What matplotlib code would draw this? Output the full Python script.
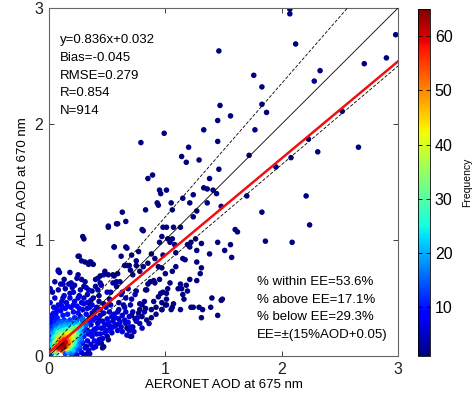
import numpy as np
import matplotlib
matplotlib.use("Agg")
import matplotlib.pyplot as plt

plt.rcParams['font.family'] = ['Liberation Sans', 'DejaVu Sans']

# ---- data: (AERONET AOD, ALAD AOD, frequency colour) ----
# sparse outer points (navy)
outer_x = [2.07, 2.07, 2.12, 2.98, 2.90, 2.71, 1.76, 2.33, 2.28, 1.83, 1.83, 1.87, 1.77, 2.52, 1.72, 2.23,
           2.31, 2.08, 1.95, 2.66, 2.21, 1.70, 1.46, 1.47, 1.45, 1.56, 0.79, 0.99, 1.33, 1.45, 1.14, 1.20,
           1.18, 1.29, 1.46, 0.85, 0.89, 0.95, 0.96, 1.01, 1.33, 1.36, 1.41, 1.44, 1.38, 1.15, 1.24,
           0.93, 0.94, 1.05, 1.06, 1.21, 1.27, 1.24, 1.36, 1.48, 0.83, 0.63, 0.66, 0.59, 0.51, 0.98,
           1.01, 1.07, 0.80, 1.83, 1.62, 1.86, 1.56, 1.57, 1.51, 2.09, 2.24, 1.60, 1.13,
           0.97, 1.02, 1.04, 1.06, 1.08, 1.09, 1.19, 1.26, 1.31, 1.21, 0.98, 1.15, 1.17, 1.27, 1.31,
           1.09, 1.06, 0.97, 1.21, 1.27, 1.13, 1.18, 1.14, 1.11, 1.02, 0.98, 1.01, 1.19, 1.15, 1.16,
           1.40, 1.48, 1.49, 1.07, 1.00, 1.06, 1.22, 1.24, 1.29, 1.32, 0.95, 1.38, 1.22, 1.27, 1.45,
           1.30, 1.31, 1.45, 1.39, 1.05, 1.13, 0.97, 0.94, 0.96, 1.01, 1.01, 0.97, 0.90, 0.92, 0.83,
           0.85, 0.87, 0.90, 0.78, 0.77, 0.80, 0.70, 0.67, 0.72, 0.29, 0.30, 0.56, 0.66, 0.71, 0.25,
           0.31, 0.34, 0.36, 0.38, 0.48, 0.44, 0.42, 0.55, 0.59, 0.65, 0.69, 0.75, 0.08, 0.09, 0.26,
           0.28, 0.35, 0.51, 0.58, 0.56, 0.67, 0.81, 0.77, 0.62, 0.51, 0.56, 0.58, 0.67, 0.70, 0.72,
           0.75, 0.78, 0.81, 0.85, 0.88, 0.91, 0.94, 0.84, 0.91, 0.95, 1.00, 1.04, 0.80, 0.83, 0.97,
           0.32, 0.47, 0.33, 0.45, 0.46, 0.71, 0.74, 0.84, 0.88, 0.92, 0.71, 0.50, 0.51]
outer_y = [2.99, 2.95, 2.69, 2.77, 2.57, 2.52, 2.42, 2.46, 2.37, 2.32, 2.17, 2.10, 1.95, 2.11, 1.73, 1.87,
           1.76, 1.71, 1.63, 1.80, 1.38, 1.38, 2.63, 2.16, 2.03, 2.07, 1.84, 1.92, 1.95, 1.85, 1.72, 1.80,
           1.67, 1.69, 1.61, 1.53, 1.56, 1.43, 1.40, 1.43, 1.45, 1.44, 1.43, 1.40, 1.53, 1.36, 1.39,
           1.32, 1.30, 1.32, 1.26, 1.32, 1.25, 1.20, 1.32, 1.29, 1.26, 1.24, 1.16, 1.14, 1.11, 1.11,
           1.11, 1.11, 1.09, 1.24, 1.07, 0.99, 0.96, 0.85, 0.91, 0.98, 1.13, 1.09, 1.11,
           1.03, 1.01, 0.98, 1.01, 0.96, 0.89, 0.96, 1.01, 0.97, 0.94, 0.87, 0.84, 0.83, 0.81, 0.76,
           0.77, 0.73, 0.76, 0.66, 0.65, 0.62, 0.61, 0.58, 0.58, 0.58, 0.55, 0.54, 0.56, 0.53, 0.49,
           0.50, 0.48, 0.49, 0.45, 0.44, 0.42, 0.42, 0.42, 0.42, 0.40, 0.98, 0.88, 0.98, 0.91, 0.98,
           0.71, 0.33, 0.35, 0.42, 0.40, 0.40, 0.40, 0.51, 0.54, 0.49, 0.44, 0.46, 0.47, 0.42, 0.57,
           0.62, 0.64, 0.65, 0.40, 0.37, 0.34, 0.17, 0.24, 0.25, 1.03, 1.01, 0.94, 0.94, 0.87, 0.86,
           0.81, 0.79, 0.81, 0.79, 0.73, 0.69, 0.67, 0.70, 0.71, 0.78, 0.78, 0.82, 0.74, 0.72, 0.86,
           0.82, 0.81, 1.12, 1.14, 0.94, 0.93, 1.08, 0.90, 0.86, 0.70, 0.69, 0.64, 0.78, 0.74, 0.70,
           0.78, 0.73, 0.77, 0.80, 0.88, 0.84, 0.77, 0.57, 0.63, 0.66, 0.71, 0.63, 0.44, 0.41, 0.40,
           0.08, 0.08, 0.02, 0.11, 0.07, 0.35, 0.32, 0.31, 0.33, 0.36, 0.17, 0.17, 0.14]
outer_f = [1] * len(outer_x)

# blue halo around the dense core
ring_x = [0.08, 0.10, 0.12, 0.17, 0.19, 0.22, 0.24, 0.28, 0.31, 0.32, 0.34, 0.40, 0.42, 0.45, 0.50,
          0.53, 0.55, 0.58, 0.61, 0.62, 0.66, 0.71, 0.74, 0.57, 0.64, 0.60, 0.54, 0.40, 0.44, 0.47,
          0.03, 0.06, 0.10, 0.14, 0.19, 0.24, 0.29, 0.33, 0.37, 0.40, 0.42, 0.39, 0.37, 0.33, 0.31,
          0.28, 0.02, 0.08, 0.15, 0.22, 0.28, 0.44, 0.46, 0.45, 0.41, 0.36, 0.34, 0.30, 0.48, 0.50,
          0.52, 0.55, 0.58, 0.53, 0.60, 0.62, 0.48, 0.43, 0.40, 0.66, 0.69, 0.36, 0.26, 0.18, 0.12,
          0.01, 0.04, 0.01, 0.05, 0.11, 0.13, 0.18, 0.21, 0.25, 0.30, 0.33, 0.37, 0.41, 0.44, 0.47,
          0.49, 0.52, 0.56, 0.59, 0.63, 0.66, 0.69, 0.72, 0.75, 0.68, 0.65, 0.61, 0.57, 0.54, 0.51,
          0.47, 0.50, 0.44, 0.46, 0.42, 0.38, 0.35, 0.39, 0.37, 0.41, 0.43, 0.39, 0.35, 0.30, 0.26,
          0.21, 0.16, 0.11, 0.07, 0.04, 0.01, 0.03, 0.06, 0.55, 0.59, 0.63, 0.67, 0.70, 0.73, 0.78,
          0.80, 0.76,
          0.03, 0.08, 0.14, 0.20, 0.27, 0.33, 0.38, 0.43, 0.47, 0.53, 0.60, 0.65, 0.70, 0.78, 0.82,
          0.86, 0.88, 0.82, 0.75, 0.68, 0.63, 0.52, 0.43, 0.37, 0.30, 0.25, 0.18, 0.13, 0.05, 0.01]
ring_y = [0.73, 0.62, 0.62, 0.62, 0.63, 0.61, 0.67, 0.66, 0.64, 0.59, 0.57, 0.60, 0.57, 0.61, 0.55,
          0.55, 0.63, 0.60, 0.64, 0.53, 0.50, 0.49, 0.53, 0.26, 0.44, 0.40, 0.20, 0.66, 0.63, 0.70,
          0.33, 0.37, 0.39, 0.41, 0.42, 0.43, 0.40, 0.41, 0.37, 0.33, 0.28, 0.23, 0.17, 0.13, 0.07,
          0.03, 0.30, 0.44, 0.46, 0.47, 0.46, 0.35, 0.30, 0.24, 0.19, 0.10, 0.05, 0.01, 0.27, 0.32,
          0.26, 0.30, 0.27, 0.22, 0.32, 0.25, 0.20, 0.14, 0.08, 0.28, 0.22, 0.48, 0.52, 0.54, 0.50,
          0.35, 0.42, 0.46, 0.50, 0.47, 0.52, 0.50, 0.55, 0.50, 0.50, 0.46, 0.44, 0.42, 0.40, 0.37,
          0.42, 0.38, 0.36, 0.38, 0.35, 0.38, 0.34, 0.38, 0.30, 0.29, 0.31, 0.29, 0.33, 0.34, 0.29,
          0.24, 0.22, 0.19, 0.15, 0.11, 0.07, 0.02, 0.13, 0.21, 0.24, 0.31, 0.39, 0.42, 0.45, 0.41,
          0.44, 0.43, 0.43, 0.40, 0.37, 0.29, 0.27, 0.33, 0.25, 0.22, 0.21, 0.18, 0.25, 0.21, 0.28,
          0.24, 0.33,
          0.55, 0.57, 0.58, 0.59, 0.57, 0.53, 0.50, 0.47, 0.45, 0.44, 0.46, 0.42, 0.44, 0.45, 0.38,
          0.28, 0.40, 0.47, 0.56, 0.58, 0.55, 0.49, 0.52, 0.56, 0.60, 0.70, 0.72, 0.66, 0.64, 0.58]
ring_f = [4, 4, 4, 4, 4, 4, 3, 3, 3, 4, 4, 3, 3, 3, 4, 4, 3, 3, 3, 4, 4, 4, 3, 4, 3, 4, 4, 3, 3, 3,
          7, 7, 7, 7, 7, 7, 7, 7, 7, 7, 6, 6, 6, 6, 6, 6, 6, 6, 6, 6, 6, 5, 5, 5, 5, 5, 5, 5, 6, 6,
          6, 6, 5, 6, 5, 5, 5, 5, 5, 4, 4, 5, 5, 5, 5,
          7, 6, 6, 5, 6, 5, 6, 5, 6, 5, 6, 6, 6, 6, 6,
          5, 6, 6, 5, 5, 5, 5, 4, 5, 6, 6, 6, 6, 6, 7,
          7, 7, 7, 6, 6, 6, 5, 7, 8, 8, 7, 7, 7, 7, 8,
          7, 8, 8, 8, 8, 8, 8, 8, 7, 6, 6, 5, 5, 5, 4,
          4, 5,
          3, 3, 3, 3, 3, 3, 3, 3, 3, 3, 3, 3, 3, 3, 3,
          3, 2, 2, 2, 2, 2, 3, 2, 2, 2, 2, 2, 2, 3, 3]

# dense core (colour read as frequency)
core_x = [0.02, 0.05, 0.09, 0.13, 0.18, 0.22, 0.27, 0.31, 0.34, 0.30, 0.26, 0.22, 0.33, 0.36, 0.01,
          0.07, 0.12, 0.16, 0.21, 0.25, 0.32, 0.35, 0.38, 0.29, 0.24, 0.34,
          0.03, 0.05, 0.08, 0.11, 0.15, 0.19, 0.24, 0.29, 0.31, 0.30, 0.28, 0.26, 0.23, 0.19, 0.14,
          0.01, 0.00, 0.02,
          0.03, 0.06, 0.10, 0.14, 0.18, 0.28, 0.30, 0.25, 0.20, 0.02, 0.01, 0.23, 0.32, 0.27, 0.17, 0.29,
          0.04, 0.06, 0.09, 0.13, 0.17, 0.21, 0.26, 0.27, 0.24, 0.23, 0.21, 0.16, 0.03, 0.04,
          0.04, 0.07, 0.12, 0.25, 0.26, 0.22, 0.02, 0.20, 0.15, 0.28, 0.10,
          0.06, 0.08, 0.12, 0.16, 0.19, 0.24, 0.22, 0.21, 0.18, 0.05, 0.06,
          0.22, 0.20, 0.05, 0.03, 0.09, 0.23, 0.16, 0.19, 0.24,
          0.08, 0.11, 0.15, 0.20, 0.19, 0.17, 0.06,
          0.19, 0.17, 0.14, 0.20, 0.07, 0.04, 0.18, 0.21,
          0.10, 0.13, 0.17, 0.17, 0.15, 0.08,
          0.06, 0.17, 0.09, 0.15, 0.18, 0.05, 0.12, 0.16,
          0.09, 0.12, 0.15, 0.14, 0.10,
          0.08, 0.15, 0.10, 0.13, 0.16, 0.07, 0.11, 0.14,
          0.11, 0.12, 0.13, 0.10,
          0.10, 0.12, 0.11, 0.13, 0.09, 0.12, 0.14]
core_y = [0.25, 0.29, 0.30, 0.31, 0.31, 0.33, 0.34, 0.24, 0.30, 0.17, 0.06, 0.02, 0.22, 0.27, 0.18,
          0.33, 0.35, 0.36, 0.38, 0.37, 0.36, 0.33, 0.31, 0.11, 0.01, 0.19,
          0.22, 0.26, 0.28, 0.29, 0.29, 0.29, 0.31, 0.30, 0.27, 0.21, 0.13, 0.08, 0.05, 0.02, 0.02,
          0.12, 0.08, 0.02,
          0.20, 0.24, 0.26, 0.27, 0.27, 0.20, 0.29, 0.10, 0.03, 0.14, 0.06, 0.29, 0.27, 0.15, 0.03, 0.32,
          0.19, 0.22, 0.24, 0.25, 0.25, 0.27, 0.24, 0.19, 0.14, 0.09, 0.05, 0.04, 0.09, 0.13,
          0.16, 0.20, 0.22, 0.22, 0.27, 0.12, 0.10, 0.06, 0.23, 0.25, 0.21,
          0.17, 0.20, 0.20, 0.22, 0.22, 0.19, 0.15, 0.10, 0.07, 0.10, 0.03,
          0.22, 0.24, 0.12, 0.04, 0.18, 0.17, 0.06, 0.09, 0.25,
          0.16, 0.18, 0.20, 0.18, 0.13, 0.10, 0.07,
          0.18, 0.19, 0.18, 0.15, 0.13, 0.06, 0.21, 0.19,
          0.15, 0.17, 0.17, 0.12, 0.07, 0.10,
          0.05, 0.15, 0.14, 0.16, 0.12, 0.08, 0.16, 0.09,
          0.09, 0.13, 0.14, 0.10, 0.06,
          0.06, 0.11, 0.12, 0.14, 0.13, 0.09, 0.05, 0.08,
          0.10, 0.08, 0.11, 0.10,
          0.08, 0.09, 0.11, 0.10, 0.07, 0.07, 0.12]
core_f = [11, 11, 12, 12, 12, 11, 10, 11, 10, 10, 10, 9, 10, 9, 10,
          10, 10, 10, 9, 9, 9, 9, 9, 9, 9, 9,
          14, 14, 14, 15, 15, 14, 13, 13, 13, 13, 13, 14, 14, 13, 13,
          13, 13, 13,
          17, 17, 18, 18, 18, 17, 16, 16, 16, 18, 16, 17, 15, 17, 16, 15,
          20, 21, 21, 21, 21, 20, 20, 20, 20, 20, 20, 20, 20, 20,
          24, 24, 25, 23, 22, 25, 23, 22, 26, 22, 26,
          28, 28, 29, 28, 28, 27, 28, 28, 28, 27, 27,
          32, 31, 33, 30, 33, 31, 30, 33, 30,
          36, 37, 37, 36, 37, 36, 35,
          40, 41, 42, 39, 40, 38, 38, 38,
          44, 44, 44, 44, 43, 44,
          45, 46, 48, 47, 46, 45, 48, 47,
          50, 51, 50, 51, 50,
          53, 54, 55, 56, 52, 52, 53, 55,
          58, 58, 58, 58,
          62, 63, 64, 61, 60, 61, 60]

slope, intercept = 0.836, 0.032
stats_left = ["y=0.836x+0.032", "Bias=-0.045", "RMSE=0.279", "R=0.854", "N=914"]
stats_right = ["% within EE=53.6%", "% above EE=17.1%", "% below EE=29.3%", "EE=\u00b1(15%AOD+0.05)"]
ticks = [0, 1, 2, 3]
cbar_ticks = [10, 20, 30, 40, 50, 60]

# ---- figure ----
fig = plt.figure(figsize=(4.74, 3.97), dpi=100)
ax = fig.add_axes([0.1034, 0.1033, 0.7363, 0.8765])
cax = fig.add_axes([0.8819, 0.1033, 0.0253, 0.8737])

xs = np.array(outer_x + ring_x + core_x)
ys = np.array(outer_y + ring_y + core_y)
fs = np.array(outer_f + ring_f + core_f, dtype=float)
order = np.argsort(fs, kind="stable")
sc = ax.scatter(xs[order], ys[order], c=fs[order], cmap="jet", vmin=1, vmax=65,
                s=16, linewidths=0, zorder=2)

xx = np.array([0.0, 3.0])
ax.plot(xx, xx, color="black", lw=0.6, zorder=3)
ax.plot(xx, 1.15 * xx + 0.05, color="black", lw=0.6, ls=(0, (4, 2)), zorder=3)
ax.plot(xx, 0.85 * xx - 0.05, color="black", lw=0.6, ls=(0, (4, 2)), zorder=3)
ax.plot(xx, slope * xx + intercept, color="#ee1111", lw=1.8, zorder=4)

ax.set_xlim(0, 3)
ax.set_ylim(0, 3)
ax.set_xticks(ticks)
ax.set_yticks(ticks)
ax.tick_params(direction="in", top=True, right=True, length=3.5, width=0.6,
               labelsize=11.5, pad=4, colors="#222222")
for sp in ax.spines.values():
    sp.set_linewidth(0.8)
    sp.set_color("#666666")
ax.set_xlabel("AERONET AOD at 675 nm", fontsize=9.5, labelpad=2)
ax.set_ylabel("ALAD AOD at 670 nm", fontsize=9.5, labelpad=4)

for i, t in enumerate(stats_left):
    ax.text(0.095, 2.72 - i * 0.152, t, fontsize=9.5, va="center", ha="left")
for i, t in enumerate(stats_right):
    ax.text(1.79, 0.635 - i * 0.151, t, fontsize=9.5, va="center", ha="left")

cb = fig.colorbar(sc, cax=cax, ticks=cbar_ticks)
cb.ax.tick_params(direction="in", length=3, width=0.6, labelsize=11.5, left=True, right=True)
cb.outline.set_linewidth(0.6)
cb.set_label("Frequency", fontsize=7.5, labelpad=7)

fig.savefig("out.png", dpi=100)
